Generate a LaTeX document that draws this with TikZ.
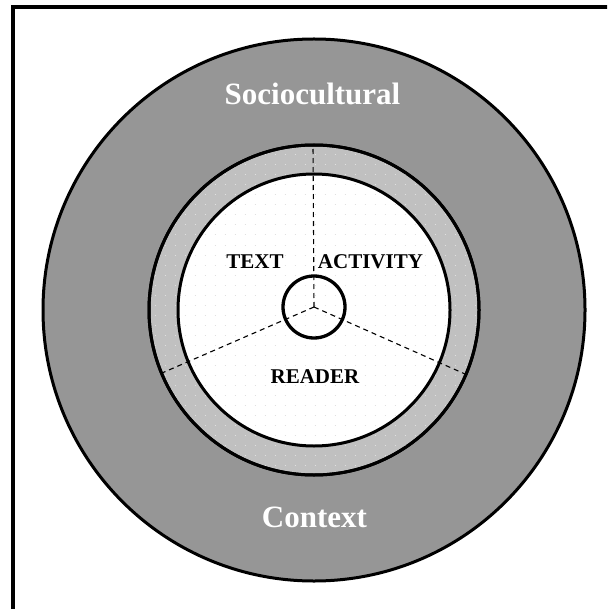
\documentclass[tikz,border=0pt]{standalone}
\usepackage{fontspec}
\setmainfont{Liberation Serif}
\definecolor{outergray}{RGB}{150,150,150}
\definecolor{ringgray}{RGB}{192,192,192}
\begin{document}
\begin{tikzpicture}[x=1pt,y=-1pt,
  ring/.style={draw=black,line width=3pt},
  sectorline/.style={dash pattern=on 5pt off 4pt, line width=1.1pt},
  bigword/.style={font=\fontsize{31}{31}\selectfont\bfseries, text=white, inner sep=0pt, anchor=base},
  smallword/.style={font=\fontsize{21}{21}\selectfont\bfseries, text=black, inner sep=0pt, anchor=base}]
\useasboundingbox (0,0) rectangle (607,609);
\clip (0,0) rectangle (607,609);
\fill[white] (0,0) rectangle (607,609);
% page frame (runs off the right and bottom edges)
\draw[line width=4pt] (13,7) rectangle (660,660);
% centre of the rings and of the hub
\coordinate (c) at (314,310);
\coordinate (hub) at (314,307);
% sociocultural context
\draw[ring, fill=outergray] (c) circle (271);
% middle band
\draw[ring, fill=ringgray] (c) circle (165);
% inner reading space
\fill[white] (c) circle (136);
% faint dot grid over the inner area and band
\begin{scope}
  \clip (c) circle (164);
  \foreach \j in {0,...,34} {
    \draw[black!12, line width=1pt, dash pattern=on 1pt off 9pt]
      (144.5,{145+10*\j}) -- (490,{145+10*\j});
  }
\end{scope}
\draw[ring] (c) circle (136);
\draw[ring] (c) circle (165);
% sector boundaries
\coordinate (top) at (313,145);
\coordinate (left) at (162,373);
\coordinate (right) at (465,374);
\draw[sectorline] (hub) -- (top);
\draw[sectorline] (hub) -- (left);
\draw[sectorline] (hub) -- (right);
% hub
\draw[line width=3.3pt] (hub) circle (31);
% labels
\node[bigword] (socio) at (312.5,105) {Sociocultural};
\node[bigword] (context) at (314.5,527) {Context};
\node[smallword] (text) at (255,268) {TEXT};
\node[smallword] (activity) at (370.5,268) {ACTIVITY};
\node[smallword] (reader) at (315,383) {READER};
\end{tikzpicture}
\end{document}
